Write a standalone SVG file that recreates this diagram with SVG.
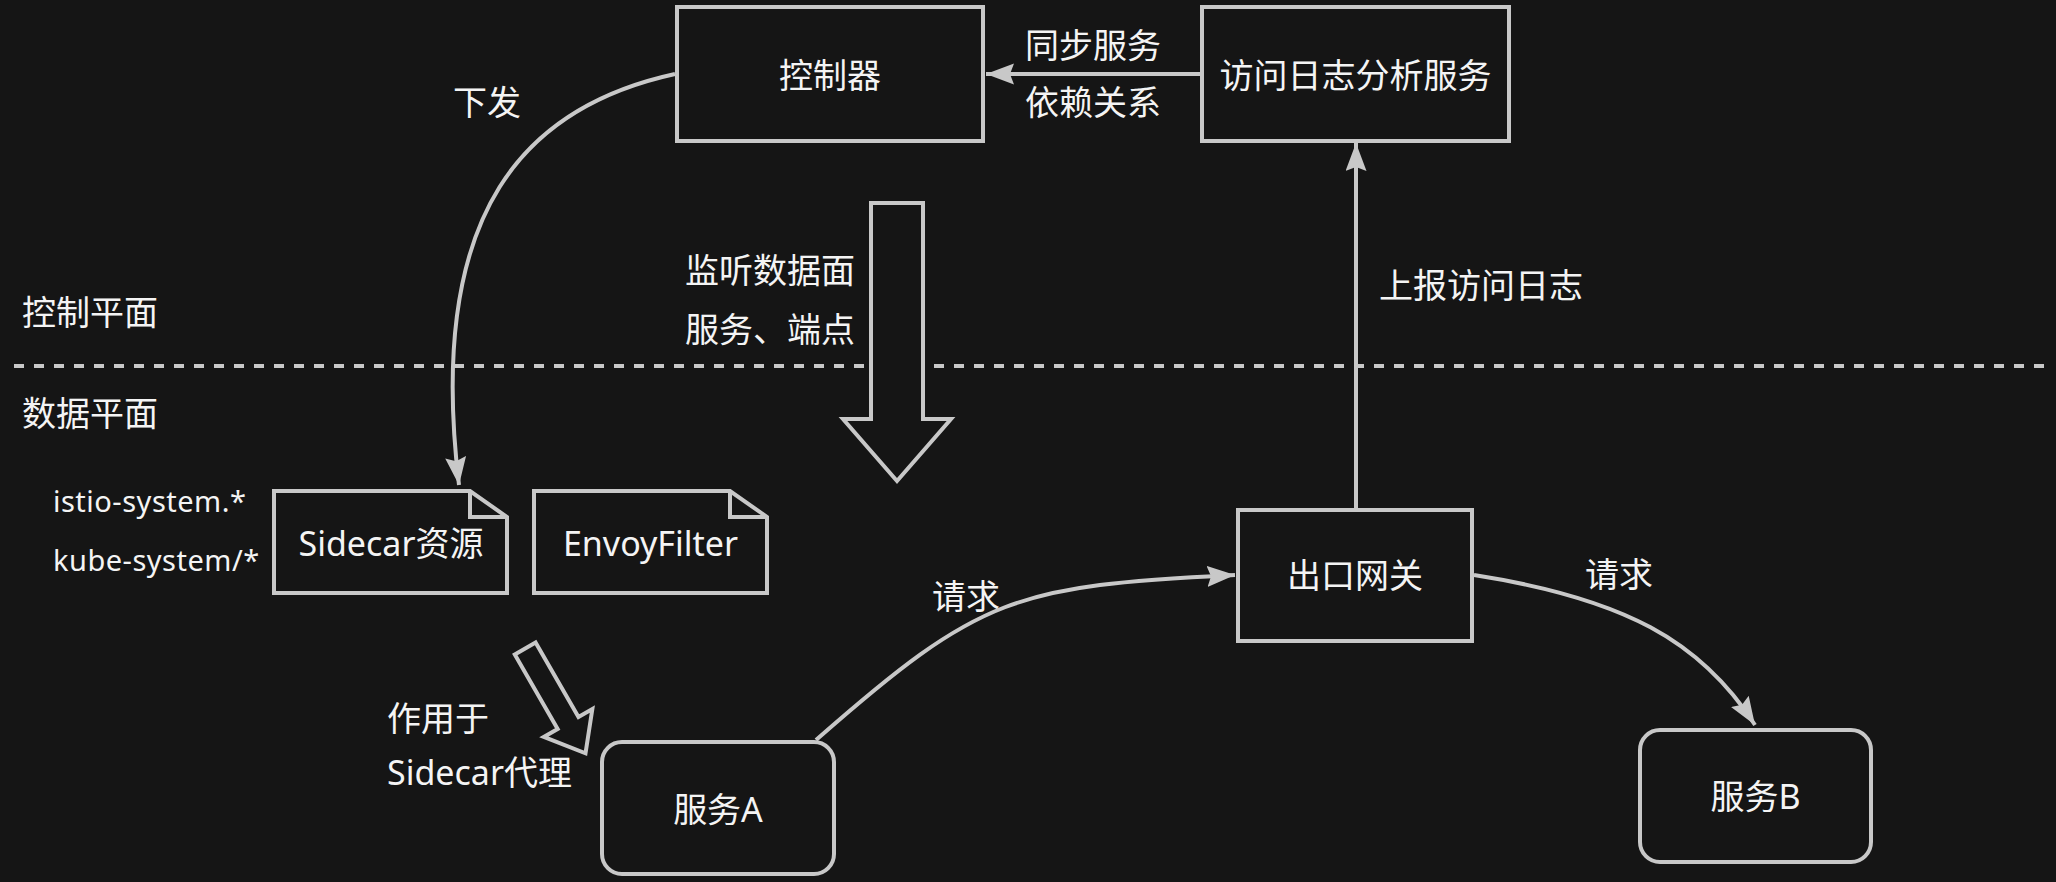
<svg xmlns="http://www.w3.org/2000/svg" width="2056" height="882" viewBox="0 0 2056 882">
<defs>
<style>
.bg{fill:#151515}
.box{fill:#151515;stroke:#c8c8c8;stroke-width:4}
.ln{fill:none;stroke:#c8c8c8;stroke-width:4}
.t{fill:#f4f4f4;font-family:"Noto Sans","Noto Sans CJK SC",sans-serif;font-size:34px}
.c{text-anchor:middle}
.s{font-size:29px;letter-spacing:0.5px}
</style>
<marker id="ah" markerUnits="userSpaceOnUse" markerWidth="30" markerHeight="22" refX="28" refY="10.5" orient="auto">
<path d="M0,0 L28,10.5 L0,21 L4,10.5 Z" fill="#c8c8c8"/>
</marker>
</defs>
<rect class="bg" x="0" y="0" width="2056" height="882"/>
<line x1="14" y1="366" x2="2050" y2="366" stroke="#c8c8c8" stroke-width="4" stroke-dasharray="10 10"/>
<text class="t" x="22" y="325">控制平面</text>
<text class="t" x="22" y="426">数据平面</text>
<g id="connectors">
<line class="ln" x1="1202" y1="74" x2="986" y2="74" marker-end="url(#ah)"/>
<path class="ln" d="M675,74 C528.5,106 425.4,207 459,485" marker-end="url(#ah)"/>
<line class="ln" x1="1356" y1="508" x2="1356" y2="143" marker-end="url(#ah)"/>
<path class="ln" d="M816,740 C981,595 1015,586 1235,575" marker-end="url(#ah)"/>
<path class="ln" d="M1474,575 C1624,598.5 1701,641 1755,725" marker-end="url(#ah)"/>
<text class="t" x="1025" y="58">同步服务</text>
<text class="t" x="1025" y="115">依赖关系</text>
<text class="t" x="453" y="115">下发</text>
<text class="t" x="1379" y="298">上报访问日志</text>
<text class="t" x="932" y="609">请求</text>
<text class="t" x="1585" y="587">请求</text>
</g>
<g id="watch-arrow">
<polygon class="box" points="871,203 923,203 923,419 951,419 897,481 843,419 871,419"/>
<text class="t" x="685" y="283">监听数据面</text>
<text class="t" x="685" y="342">服务、端点</text>
</g>
<g id="controller">
<rect class="box" x="677" y="7" width="306" height="134"/>
<text class="t c" x="830" y="88">控制器</text>
</g>
<g id="log-service">
<rect class="box" x="1202" y="7" width="307" height="134"/>
<text class="t c" x="1355.5" y="88">访问日志分析服务</text>
</g>
<g id="sidecar-resource">
<path class="box" d="M274,491 H470 L507,517 V593 H274 Z"/>
<path class="ln" d="M470,491 V517 H507"/>
<text class="t c" x="391" y="556">Sidecar资源</text>
</g>
<g id="envoyfilter">
<path class="box" d="M534,491 H730 L767,517 V593 H534 Z"/>
<path class="ln" d="M730,491 V517 H767"/>
<text class="t c" x="650.5" y="556">EnvoyFilter</text>
</g>
<g id="scope-labels">
<text class="t s" x="53" y="512">istio-system.*</text>
<text class="t s" x="53" y="571">kube-system/*</text>
</g>
<g id="apply-arrow">
<polygon class="box" transform="translate(524.2,646.7) rotate(60.1)" points="2,-12 88,-12 88,-28 123,0 88,28 88,12 2,12"/>
<text class="t" x="387" y="731">作用于</text>
<text class="t" x="387" y="785">Sidecar代理</text>
</g>
<g id="service-a">
<rect class="box" x="602" y="742" width="232" height="132" rx="20"/>
<text class="t c" x="718" y="822">服务A</text>
</g>
<g id="egress-gateway">
<rect class="box" x="1238" y="510" width="234" height="131"/>
<text class="t c" x="1355" y="588">出口网关</text>
</g>
<g id="service-b">
<rect class="box" x="1640" y="730" width="231" height="132" rx="20"/>
<text class="t c" x="1755.5" y="809">服务B</text>
</g>
</svg>
